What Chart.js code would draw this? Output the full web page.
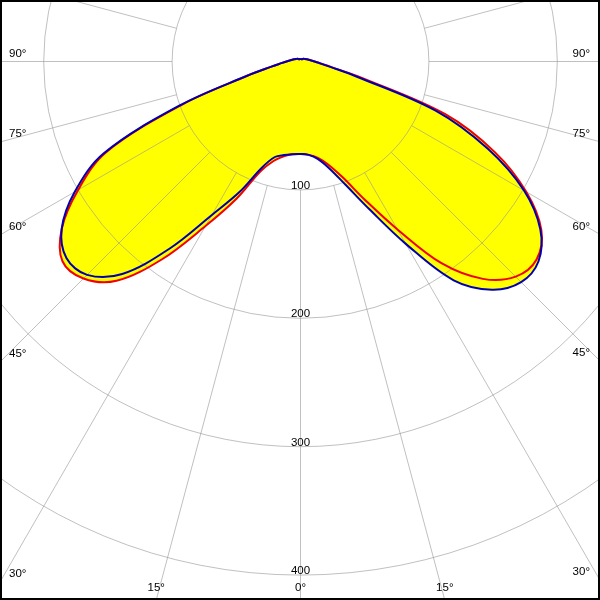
<!DOCTYPE html>
<html>
<head>
<meta charset="utf-8">
<script src="https://cdn.jsdelivr.net/npm/chart.js@4.4.1/dist/chart.umd.min.js"></script>
<style>
  html, body { margin: 0; padding: 0; background: #fff; }
  #wrap { width: 600px; height: 600px; }
</style>
</head>
<body>
<div id="wrap"><canvas id="polar" width="600" height="600"></canvas></div>
<script>
// gamma angles (deg from nadir) and luminous intensity per plane
const gammaAngles = [0, 5, 10, 15, 20, 25, 30, 35, 40, 45, 50, 55, 60, 65, 70, 75, 80, 85, 90, 105, 120, 135, 150, 165, 180];
const blueC0   = [72, 73, 77, 86, 102, 127, 164, 208, 232, 243, 242, 228, 201, 161, 112, 45, 23, 15, 11, 6, 4, 3, 2, 2, 2];
const blueC180 = [72, 72.5, 74, 77, 88, 112, 138, 178, 216, 235, 238, 227, 203, 169, 100, 43, 23, 15, 11, 6, 4, 3, 2, 2, 2];
const redC90   = [72, 73, 76, 83, 96, 119, 151, 192, 221, 237, 240, 229, 203, 167, 120, 50, 24, 15, 11, 6, 4, 3, 2, 2, 2];
const redC270  = [72, 72.5, 75, 80, 91, 118, 148, 188, 223, 239, 242, 227, 200, 167, 98, 43, 23, 15, 11, 6, 4, 3, 2, 2, 2];

const ringValues = [100, 200, 300, 400];
const angleLabels = [-90, -75, -60, -45, -30, -15, 0, 15, 30, 45, 60, 75, 90];

// where the pole sits on the canvas, and pixels per unit
const CX = 300.5, CY = 61.5, PX = 1.284;

// left half goes 180 -> 0, right half 0 -> 180, so the path closes on itself
function toLoop(leftVals, rightVals) {
  const pts = [];
  for (let i = gammaAngles.length - 1; i >= 0; i--) {
    const g = gammaAngles[i] * Math.PI / 180;
    pts.push({ x: -leftVals[i] * Math.sin(g), y: -leftVals[i] * Math.cos(g) });
  }
  for (let i = 1; i < gammaAngles.length; i++) {
    const g = gammaAngles[i] * Math.PI / 180;
    pts.push({ x: rightVals[i] * Math.sin(g), y: -rightVals[i] * Math.cos(g) });
  }
  return pts;
}

const FONT = '11.5px "Liberation Sans", Arial, sans-serif';

const polarGrid = {
  id: 'polarGrid',
  beforeDatasetsDraw(chart) {
    const { ctx, scales: { x, y }, width, height } = chart;
    const cx = x.getPixelForValue(0), cy = y.getPixelForValue(0);
    const rad = v => x.getPixelForValue(v) - cx;
    ctx.save();
    ctx.strokeStyle = 'rgba(150,150,150,0.6)';
    ctx.lineWidth = 1;
    ringValues.forEach(v => {
      ctx.beginPath();
      ctx.arc(cx, cy, rad(v), 0, Math.PI * 2);
      ctx.stroke();
    });
    const r0 = rad(ringValues[0]);
    for (let a = 0; a < 360; a += 15) {
      const t = a * Math.PI / 180;
      const s = Math.sin(t), c = Math.cos(t);
      ctx.beginPath();
      ctx.moveTo(cx + r0 * s, cy + r0 * c);
      ctx.lineTo(cx + 1200 * s, cy + 1200 * c);
      ctx.stroke();
    }

    ctx.fillStyle = '#000';
    ctx.font = FONT;
    ctx.textAlign = 'center';
    ctx.textBaseline = 'alphabetic';
    ringValues.forEach(v => ctx.fillText(String(v), cx, cy + rad(v) - 1));

    ctx.textBaseline = 'middle';
    angleLabels.forEach(a => {
      const t = a * Math.PI / 180;
      const s = Math.sin(t), c = Math.cos(t);
      const tSide = Math.abs(s) > 1e-6 ? (s > 0 ? width - cx : cx) / Math.abs(s) : Infinity;
      const tBottom = c > 1e-6 ? (height - cy) / c : Infinity;
      const txt = Math.abs(a) + '°';
      if (tSide < tBottom) {
        const ey = cy + tSide * c;
        if (s < 0) { ctx.textAlign = 'left'; ctx.fillText(txt, 9, ey - 8); }
        else { ctx.textAlign = 'right'; ctx.fillText(txt, width - 10, ey - 8); }
      } else {
        ctx.textAlign = 'center';
        ctx.fillText(txt, cx + tBottom * s, height - 12);
      }
    });
    ctx.restore();
  },
  afterDraw(chart) {
    const { ctx, width, height } = chart;
    ctx.save();
    ctx.strokeStyle = '#000';
    ctx.lineWidth = 2;
    ctx.strokeRect(1, 1, width - 2, height - 2);
    ctx.restore();
  }
};

const lineStyle = {
  showLine: true,
  fill: 'shape',
  backgroundColor: '#ffff00',
  borderWidth: 2,
  pointRadius: 0,
  tension: 0.35,
  borderJoinStyle: 'round'
};

new Chart(document.getElementById('polar'), {
  type: 'scatter',
  data: {
    datasets: [
      Object.assign({ label: 'C0-C180', data: toLoop(blueC180, blueC0), borderColor: '#0000b0' }, lineStyle),
      Object.assign({ label: 'C90-C270', data: toLoop(redC270, redC90), borderColor: '#f00000' }, lineStyle)
    ]
  },
  options: {
    responsive: false,
    animation: false,
    events: [],
    layout: { padding: 0 },
    plugins: {
      legend: { display: false },
      tooltip: { enabled: false },
      filler: { drawTime: 'beforeDatasetsDraw' }
    },
    scales: {
      x: { type: 'linear', display: false, min: -CX / PX, max: (600 - CX) / PX },
      y: { type: 'linear', display: false, min: -(600 - CY) / PX, max: CY / PX }
    }
  },
  plugins: [polarGrid]
});
</script>
</body>
</html>
